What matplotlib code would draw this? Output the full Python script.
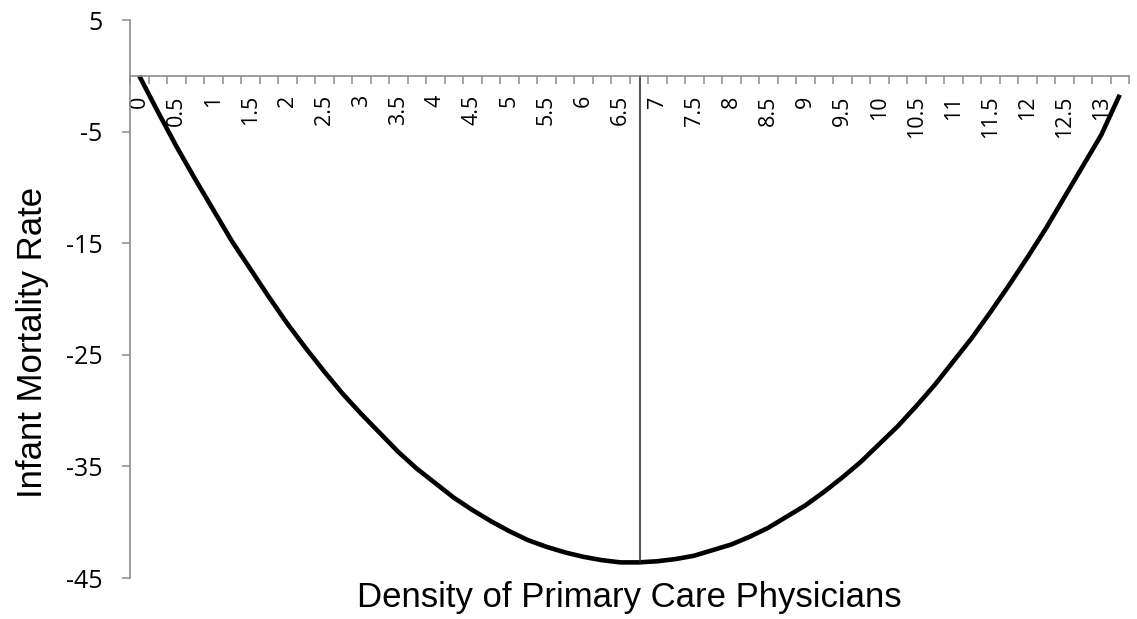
import numpy as np
import matplotlib
matplotlib.use('Agg')
import matplotlib.pyplot as plt

# physician density (per 10k) and fitted infant mortality effect
density = [0, 0.25, 0.5, 0.75, 1, 1.25, 1.5, 1.75, 2, 2.25, 2.5, 2.75, 3, 3.25,
           3.5, 3.75, 4, 4.25, 4.5, 4.75, 5, 5.25, 5.5, 5.75, 6, 6.25, 6.5, 6.75,
           7, 7.25, 7.5, 7.75, 8, 8.25, 8.5, 8.75, 9, 9.25, 9.5, 9.75, 10, 10.25,
           10.5, 10.75, 11, 11.25, 11.5, 11.75, 12, 12.25, 12.5, 12.75, 13, 13.25]
mortality = [0.0, -3.2, -6.3, -9.2, -12.0, -14.8, -17.3, -19.8, -22.2, -24.4,
             -26.5, -28.5, -30.3, -32.0, -33.7, -35.2, -36.5, -37.8, -38.9, -39.9,
             -40.8, -41.6, -42.2, -42.7, -43.1, -43.4, -43.6, -43.6, -43.5, -43.3,
             -43.0, -42.5, -42.0, -41.3, -40.5, -39.5, -38.5, -37.3, -36.0, -34.6,
             -33.0, -31.4, -29.6, -27.7, -25.6, -23.5, -21.2, -18.8, -16.3, -13.7,
             -10.9, -8.1, -5.3, -1.7]

# turning point marker
turn_x = 6.77
turn_y = -43.6

x_labels = [0, 0.5, 1, 1.5, 2, 2.5, 3, 3.5, 4, 4.5, 5, 5.5, 6, 6.5, 7, 7.5,
            8, 8.5, 9, 9.5, 10, 10.5, 11, 11.5, 12, 12.5, 13]
y_ticks = [5, -5, -15, -25, -35, -45]

axis_gray = '#8c8c8c'

fig = plt.figure(figsize=(11.37, 6.19), dpi=100)
ax = fig.add_axes([130/1137, 41/619, 999/1137, 558/619])

ax.plot(density, mortality, color='black', linewidth=3.3,
        solid_capstyle='butt', solid_joinstyle='round')
ax.plot([turn_x, turn_x], [0, turn_y], color='#222222', linewidth=1.1)

ax.set_xlim(-0.125, 13.375)
ax.set_ylim(-45, 5)

# x axis sits at y = 0, like the Excel chart
ax.spines['bottom'].set_position(('data', 0))
ax.spines['top'].set_visible(False)
ax.spines['right'].set_visible(False)
ax.spines['bottom'].set_color(axis_gray)
ax.spines['left'].set_color(axis_gray)
ax.spines['bottom'].set_linewidth(1.2)
ax.spines['left'].set_linewidth(1.2)

ax.set_xticks(x_labels, [('%g' % v) for v in x_labels])
ax.tick_params(axis='x', which='major', length=0, pad=14, labelsize=15.5,
               labelrotation=90, labelfontfamily='Open Sans')
ax.set_xticks(np.arange(-0.125, 13.4, 0.25), minor=True)
ax.tick_params(axis='x', which='minor', length=5.8, width=1.1,
               color=axis_gray, direction='out')

ax.set_yticks(y_ticks, [str(v) for v in y_ticks])
ax.tick_params(axis='y', length=5.8, width=1.1, color=axis_gray, pad=14,
               labelsize=18, labelfontfamily='Open Sans')

fig.text(629.5/1137, 1 - 597/619, 'Density of Primary Care Physicians',
         ha='center', va='center', fontsize=25, family='Liberation Sans')
fig.text(33/1137, 1 - 342.5/619, 'Infant Mortality Rate', rotation=90,
         ha='center', va='center', fontsize=25, family='Liberation Sans')

fig.savefig('out.png', dpi=100)
